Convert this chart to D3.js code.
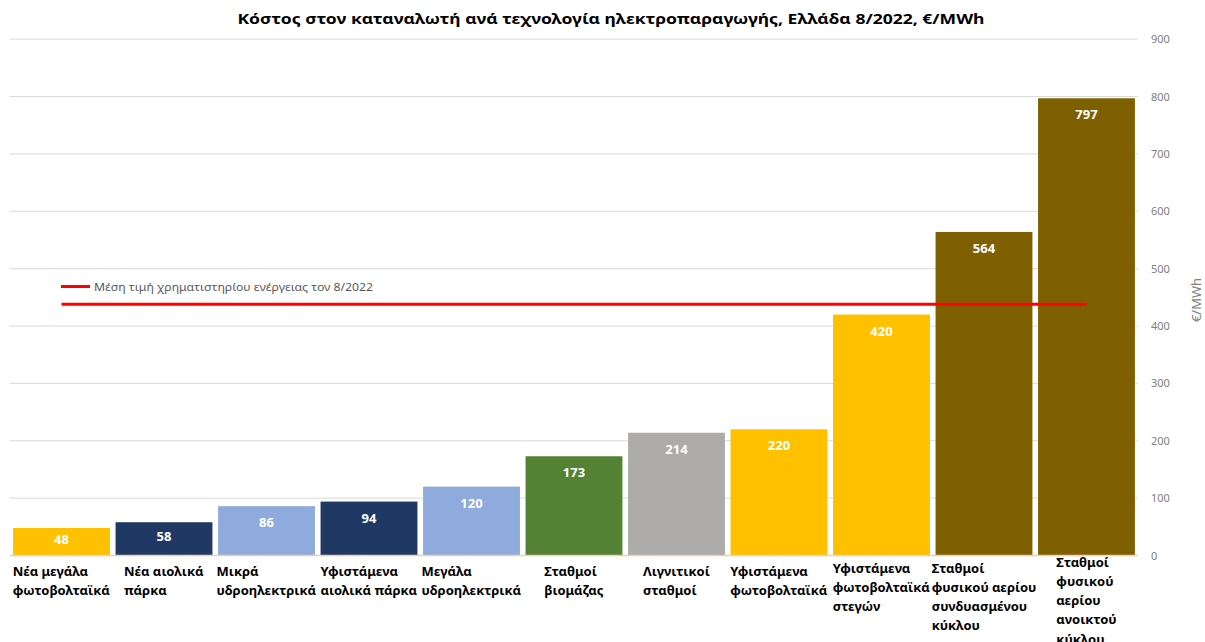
<!DOCTYPE html>
<html>
<head>
<meta charset="utf-8">
<script src="https://cdn.jsdelivr.net/npm/d3@7"></script>
<style>
    body { margin: 0; background: #fff; }
    text { font-family: "Noto Sans", "DejaVu Sans", sans-serif; }
</style>
</head>
<body>
<div id="chart"></div>
<script>
const W = 1205, H = 642;

// data
const categories = [
    "Νέα μεγάλα\nφωτοβολταϊκά",
    "Νέα αιολικά\nπάρκα",
    "Μικρά\nυδροηλεκτρικά",
    "Υφιστάμενα\nαιολικά πάρκα",
    "Μεγάλα\nυδροηλεκτρικά",
    "Σταθμοί\nβιομάζας",
    "Λιγνιτικοί\nσταθμοί",
    "Υφιστάμενα\nφωτοβολταϊκά",
    "Υφιστάμενα\nφωτοβολταϊκά\nστεγών",
    "Σταθμοί\nφυσικού αερίου\nσυνδυασμένου\nκύκλου",
    "Σταθμοί\nφυσικού\nαερίου\nανοικτού\nκύκλου"
];
const values = [48, 58, 86, 94, 120, 173, 214, 220, 420, 564, 797];
const barColors = ["#ffc000", "#203864", "#8faadc", "#203864", "#8faadc", "#548235",
                   "#aeabab", "#ffc000", "#ffc000", "#7f6000", "#7f6000"];
const marketPrice = 438;
const yTicks = [0, 100, 200, 300, 400, 500, 600, 700, 800, 900];

const title = "Κόστος στον καταναλωτή ανά τεχνολογία ηλεκτροπαραγωγής, Ελλάδα 8/2022, €/MWh";
const legendLabel = "Μέση τιμή χρηματιστηρίου ενέργειας τον 8/2022";
const yTitle = "€/MWh";

const svg = d3.select("#chart").append("svg")
    .attr("width", W)
    .attr("height", H);

const x = d3.scaleBand()
    .domain(categories)
    .range([10, 1138])
    .paddingInner(0.055)
    .paddingOuter(0.03);

const y = d3.scaleLinear()
    .domain([0, 900])
    .range([555.5, 39.2]);

// gridlines
svg.append("g")
    .selectAll("line")
    .data(yTicks.filter(d => d > 0))
    .enter()
    .append("line")
    .attr("x1", 10)
    .attr("x2", 1138)
    .attr("y1", d => y(d))
    .attr("y2", d => y(d))
    .style("stroke", "#d9d9d9")
    .style("stroke-width", 1);

// right axis
const yAxis = svg.append("g")
    .attr("transform", "translate(1138,0)")
    .call(d3.axisRight(y).tickValues(yTicks).tickSize(0).tickPadding(13));
yAxis.select(".domain").remove();
yAxis.selectAll("text")
    .style("font-size", "11px")
    .style("fill", "#808080");

svg.append("text")
    .attr("transform", "translate(1201,300) rotate(-90)")
    .attr("text-anchor", "middle")
    .style("font-size", "13px")
    .style("fill", "#808080")
    .text(yTitle);

// bars
svg.append("g")
    .selectAll("rect")
    .data(values)
    .enter()
    .append("rect")
    .attr("x", (d, i) => x(categories[i]))
    .attr("width", x.bandwidth())
    .attr("y", d => y(d))
    .attr("height", d => y(0) - y(d))
    .style("fill", (d, i) => barColors[i]);

// baseline
svg.append("line")
    .attr("x1", 10)
    .attr("x2", 1138)
    .attr("y1", y(0))
    .attr("y2", y(0))
    .style("stroke", "#f8cbad")
    .style("stroke-width", 1.5);

// value labels
svg.append("g")
    .selectAll("text")
    .data(values)
    .enter()
    .append("text")
    .attr("x", (d, i) => x(categories[i]) + x.bandwidth() / 2)
    .attr("y", d => y(d) + Math.min(16.5, (y(0) - y(d)) / 2 - 2))
    .attr("dy", "0.35em")
    .attr("text-anchor", "middle")
    .style("font-size", "13px")
    .style("font-weight", "bold")
    .style("fill", "#fff")
    .text(d => d);

// market price line
const line = d3.line()
    .x(d => x(d) + x.bandwidth() / 2)
    .y(() => y(marketPrice));
svg.append("path")
    .datum([categories[0], categories[categories.length - 1]])
    .attr("d", line)
    .style("stroke", "#ff0000")
    .style("stroke-width", 3)
    .style("fill", "none");

// legend
svg.append("line")
    .attr("x1", 61)
    .attr("x2", 90)
    .attr("y1", 286.5)
    .attr("y2", 286.5)
    .style("stroke", "#ff0000")
    .style("stroke-width", 3);
svg.append("text")
    .attr("x", 94)
    .attr("y", 286.5)
    .attr("dy", "0.35em")
    .attr("textLength", 279)
    .attr("lengthAdjust", "spacingAndGlyphs")
    .style("font-size", "11.5px")
    .style("fill", "#595959")
    .text(legendLabel);

// category labels, lines left aligned, block centred under the bar
const catG = svg.append("g");
categories.forEach(c => {
    const lines = c.split("\n");
    const g = catG.append("g");
    const n = lines.length;
    const y0 = n <= 2 ? 571 : (n <= 4 ? 568 : 562);
    const t = g.append("text")
        .style("font-size", "13px")
        .style("font-weight", "bold")
        .style("fill", "#000");
    lines.forEach((l, k) => {
        t.append("tspan")
            .attr("x", 0)
            .attr("y", y0 + k * 19.3)
            .attr("dy", "0.35em")
            .text(l);
    });
    const w = t.node().getBBox().width;
    g.attr("transform", `translate(${x(c) + x.bandwidth() / 2 - w / 2},0)`);
});

// title
svg.append("text")
    .attr("x", 611)
    .attr("y", 19)
    .attr("dy", "0.35em")
    .attr("text-anchor", "middle")
    .attr("textLength", 747)
    .attr("lengthAdjust", "spacingAndGlyphs")
    .style("font-size", "15px")
    .style("font-weight", "bold")
    .style("fill", "#000")
    .text(title);
</script>
</body>
</html>
